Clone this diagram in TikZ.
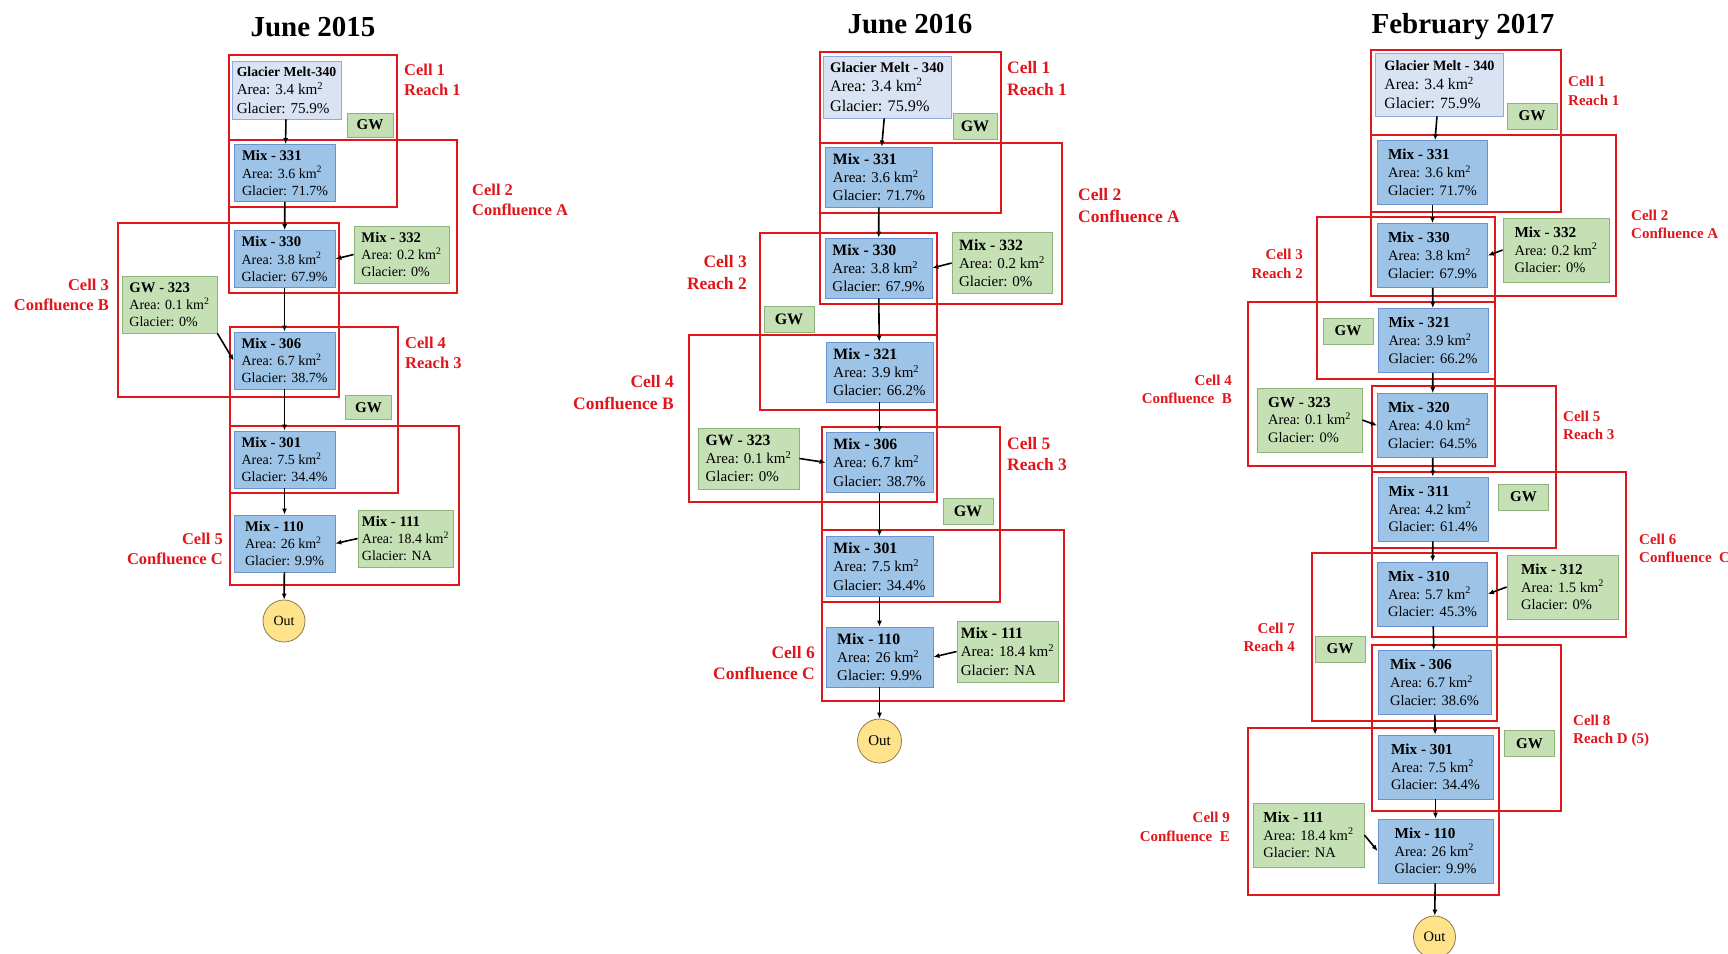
\documentclass[tikz,border=0pt]{standalone}
\usepackage{fontspec}
\setmainfont{Liberation Serif}
\usetikzlibrary{arrows.meta}

\definecolor{meltfill}{HTML}{DAE3F3}
\definecolor{meltline}{HTML}{8FAADC}
\definecolor{mixfill}{HTML}{9DC3E6}
\definecolor{mixline}{HTML}{6A92CE}
\definecolor{gwfill}{HTML}{C5E0B4}
\definecolor{gwline}{HTML}{8DB27A}
\definecolor{cellred}{HTML}{E0161B}
\definecolor{outfill}{HTML}{FFE38A}
\definecolor{outline}{HTML}{8C7B4E}

\newcommand{\fs}[1]{\fontsize{#1}{\fpeval{1.22*#1}}\selectfont}
\newcommand{\hd}[2][1.05]{{\bfseries\fontsize{\fpeval{#1*\bsz}}{\fpeval{1.22*\bsz}}\selectfont #2}}

\tikzset{
  bsz/.store in=\bsz, gsz/.store in=\gsz, lsz/.store in=\lsz,
  bsz=14, gsz=15, lsz=16,
  box/.style={align=left, inner sep=3pt, line width=0.8pt, font=\fs{\bsz}},
  melt/.style={box, draw=meltline, fill=meltfill, font=\fs{\fpeval{1.08*\bsz}}},
  mix/.style={box, draw=mixline, fill=mixfill},
  trib/.style={box, draw=gwline, fill=gwfill},
  gw/.style={draw=gwline, fill=gwfill, line width=0.8pt, inner sep=0pt, font=\fs{\gsz}\bfseries},
  cellbox/.style={draw=cellred, line width=2.2pt},
  cellR/.style={text=cellred, font=\fs{\lsz}\bfseries, align=left, anchor=west, inner sep=0pt},
  cellL/.style={text=cellred, font=\fs{\lsz}\bfseries, align=right, anchor=east, inner sep=0pt},
  outnode/.style={circle, draw=outline, fill=outfill, line width=0.8pt, inner sep=0pt, font=\fs{\bsz}},
  title/.style={font=\fontsize{29}{34}\selectfont\bfseries, anchor=base},
  flow/.style={->, line width=1.6pt}
}

\begin{document}
\begin{tikzpicture}[x=1pt, y=-1pt, >={Latex[length=6pt,width=5pt]}]
\useasboundingbox (0,0) rectangle (1728,953);

\node[title] (ta) at (313,36) {June 2015};
\node[title] (tb) at (910,33) {June 2016};
\node[title] (tc) at (1463,33) {February 2017};

% June 2015
\begin{scope}[bsz=14, gsz=15, lsz=16.5,
  mix/.append style={minimum width=101, minimum height=57},
  trib/.append style={minimum width=95, minimum height=57},
  melt/.append style={minimum width=109, minimum height=58},
  gw/.append style={minimum width=46, minimum height=24},
  outnode/.append style={minimum size=42}]
\draw[cellbox] (229,55) rectangle (397,207);
\draw[cellbox] (229,140) rectangle (457,293);
\draw[cellbox] (118,223) rectangle (339,397);
\draw[cellbox] (230,327) rectangle (398,493);
\draw[cellbox] (230,426) rectangle (459,585);
\node[melt] (a340) at (286.5,90) {\hd[0.98]{Glacier Melt-340}\\Area: 3.4 km\textsuperscript{2}\\Glacier: 75.9\%};
\node[gw] (agw1) at (370,125) {GW};
\node[mix] (a331) at (285,173) {\hd{Mix - 331}\\Area: 3.6 km\textsuperscript{2}\\Glacier: 71.7\%};
\node[mix] (a330) at (284.5,259) {\hd{Mix - 330}\\Area: 3.8 km\textsuperscript{2}\\Glacier: 67.9\%};
\node[trib] (a332) at (401.5,254.5) {\hd{Mix - 332}\\Area: 0.2 km\textsuperscript{2}\\Glacier: 0\%};
\node[trib] (a323) at (169.5,304.5) {\hd{GW - 323}\\Area: 0.1 km\textsuperscript{2}\\Glacier: 0\%};
\node[mix] (a306) at (284.5,360.5) {\hd{Mix - 306}\\Area: 6.7 km\textsuperscript{2}\\Glacier: 38.7\%};
\node[gw] (agw2) at (368.5,407.5) {GW};
\node[mix] (a301) at (284.5,459.5) {\hd{Mix - 301}\\Area: 7.5 km\textsuperscript{2}\\Glacier: 34.4\%};
\node[mix] (a110) at (284.5,543.5) {\hd{Mix - 110}\\Area: 26 km\textsuperscript{2}\\Glacier: 9.9\%};
\node[trib] (a111) at (405.5,538.5) {\hd{Mix - 111}\\Area: 18.4 km\textsuperscript{2}\\Glacier: NA};
\node[outnode] (aout) at (284,621) {Out};
\node[cellR] (la1) at (404,80) {Cell 1\\Reach 1};
\node[cellR] (la2) at (472,200) {Cell 2\\Confluence A};
\node[cellL] (la3) at (109,295) {Cell 3\\Confluence B};
\node[cellR] (la4) at (405,353) {Cell 4\\Reach 3};
\node[cellL] (la5) at (223,549) {Cell 5\\Confluence C};
\draw[flow] (a340) -- (a331);
\draw[flow] (a331) -- (a330);
\draw[flow] (a330) -- (a306);
\draw[flow] (a306) -- (a301);
\draw[flow] (a301) -- (a110);
\draw[flow] (a110) -- (aout);
\draw[flow] (a332.west) -- (a330.east);
\draw[flow] (a323.south east) -- (a306.west);
\draw[flow] (a111.west) -- (a110.east);
\end{scope}

% June 2016
\begin{scope}[bsz=15, gsz=16, lsz=17.5,
  mix/.append style={minimum width=107, minimum height=60},
  trib/.append style={minimum width=101, minimum height=61},
  melt/.append style={minimum width=128, minimum height=62},
  gw/.append style={minimum width=50, minimum height=26},
  outnode/.append style={minimum size=44}]
\draw[cellbox] (820,52) rectangle (1001,213);
\draw[cellbox] (820,143) rectangle (1062,304);
\draw[cellbox] (760,233) rectangle (937,410);
\draw[cellbox] (689,335) rectangle (937,502);
\draw[cellbox] (822,427) rectangle (1000,602);
\draw[cellbox] (822,530) rectangle (1064,701);
\node[melt] (b340) at (887,87) {\hd[0.98]{Glacier Melt - 340}\\Area: 3.4 km\textsuperscript{2}\\Glacier: 75.9\%};
\node[gw, minimum width=44] (bgw1) at (975,126) {GW};
\node[mix] (b331) at (879,177) {\hd{Mix - 331}\\Area: 3.6 km\textsuperscript{2}\\Glacier: 71.7\%};
\node[mix] (b330) at (878.5,268) {\hd{Mix - 330}\\Area: 3.8 km\textsuperscript{2}\\Glacier: 67.9\%};
\node[trib, minimum width=100] (b332) at (1002,263) {\hd{Mix - 332}\\Area: 0.2 km\textsuperscript{2}\\Glacier: 0\%};
\node[gw] (bgw2) at (789,319) {GW};
\node[mix] (b321) at (879.5,372) {\hd{Mix - 321}\\Area: 3.9 km\textsuperscript{2}\\Glacier: 66.2\%};
\node[trib] (b323) at (748.5,458.5) {\hd{GW - 323}\\Area: 0.1 km\textsuperscript{2}\\Glacier: 0\%};
\node[mix] (b306) at (879.5,462.5) {\hd{Mix - 306}\\Area: 6.7 km\textsuperscript{2}\\Glacier: 38.7\%};
\node[gw] (bgw3) at (968,511.5) {GW};
\node[mix] (b301) at (879.5,566.5) {\hd{Mix - 301}\\Area: 7.5 km\textsuperscript{2}\\Glacier: 34.4\%};
\node[mix] (b110) at (879.5,657) {\hd{Mix - 110}\\Area: 26 km\textsuperscript{2}\\Glacier: 9.9\%};
\node[trib] (b111) at (1007.5,651.5) {\hd{Mix - 111}\\Area: 18.4 km\textsuperscript{2}\\Glacier: NA};
\node[outnode] (bout) at (879.5,741) {Out};
\node[cellR] (lb1) at (1007,78.5) {Cell 1\\Reach 1};
\node[cellR] (lb2) at (1078,205.5) {Cell 2\\Confluence A};
\node[cellL] (lb3) at (747,272.5) {Cell 3\\Reach 2};
\node[cellL] (lb4) at (674,392.5) {Cell 4\\Confluence B};
\node[cellR] (lb5) at (1007,454) {Cell 5\\Reach 3};
\node[cellL] (lb6) at (815,663) {Cell 6\\Confluence C};
\draw[flow] (b340) -- (b331);
\draw[flow] (b331) -- (b330);
\draw[flow] (b330) -- (b321);
\draw[flow] (b321) -- (b306);
\draw[flow] (b306) -- (b301);
\draw[flow] (b301) -- (b110);
\draw[flow] (b110) -- (bout);
\draw[flow] (b332.west) -- (b330.east);
\draw[flow] (b323.east) -- (b306.west);
\draw[flow] (b111.west) -- (b110.east);
\end{scope}

% February 2017
\begin{scope}[bsz=14.5, gsz=15, lsz=15,
  mix/.append style={minimum width=110, minimum height=64},
  trib/.append style={minimum width=106, minimum height=64},
  melt/.append style={minimum width=128, minimum height=63},
  gw/.append style={minimum width=50, minimum height=26},
  outnode/.append style={minimum size=42}]
\draw[cellbox] (1371,50) rectangle (1561,212);
\draw[cellbox] (1371,135) rectangle (1616,296);
\draw[cellbox] (1317,217) rectangle (1495,379);
\draw[cellbox] (1248,302) rectangle (1495,466);
\draw[cellbox] (1372,386) rectangle (1556,548);
\draw[cellbox] (1372,472) rectangle (1626,637);
\draw[cellbox] (1312,553) rectangle (1497,721);
\draw[cellbox] (1372,645) rectangle (1561,811);
\draw[cellbox] (1248,728) rectangle (1499,895);
\node[melt] (c340) at (1439.5,84.5) {\hd[0.98]{Glacier Melt - 340}\\Area: 3.4 km\textsuperscript{2}\\Glacier: 75.9\%};
\node[gw] (cgw1) at (1532,116) {GW};
\node[mix] (c331) at (1432.5,172.5) {\hd{Mix - 331}\\Area: 3.6 km\textsuperscript{2}\\Glacier: 71.7\%};
\node[mix] (c330) at (1432.5,255.5) {\hd{Mix - 330}\\Area: 3.8 km\textsuperscript{2}\\Glacier: 67.9\%};
\node[trib] (c332) at (1556,250) {\hd{Mix - 332}\\Area: 0.2 km\textsuperscript{2}\\Glacier: 0\%};
\node[gw] (cgw2) at (1348,331) {GW};
\node[mix] (c321) at (1433,340.5) {\hd{Mix - 321}\\Area: 3.9 km\textsuperscript{2}\\Glacier: 66.2\%};
\node[trib, minimum width=105] (c323) at (1309.5,420) {\hd{GW - 323}\\Area: 0.1 km\textsuperscript{2}\\Glacier: 0\%};
\node[mix] (c320) at (1432.5,425.5) {\hd{Mix - 320}\\Area: 4.0 km\textsuperscript{2}\\Glacier: 64.5\%};
\node[mix] (c311) at (1433,509) {\hd{Mix - 311}\\Area: 4.2 km\textsuperscript{2}\\Glacier: 61.4\%};
\node[gw] (cgw3) at (1523.5,497) {GW};
\node[mix] (c310) at (1432.5,594) {\hd{Mix - 310}\\Area: 5.7 km\textsuperscript{2}\\Glacier: 45.3\%};
\node[trib, minimum width=111] (c312) at (1562.5,587) {\hd{Mix - 312}\\Area: 1.5 km\textsuperscript{2}\\Glacier: 0\%};
\node[gw] (cgw4) at (1340,649) {GW};
\node[mix, minimum width=113] (c306) at (1434.5,682.5) {\hd{Mix - 306}\\Area: 6.7 km\textsuperscript{2}\\Glacier: 38.6\%};
\node[gw] (cgw5) at (1529.5,743.5) {GW};
\node[mix, minimum width=115] (c301) at (1435.5,767) {\hd{Mix - 301}\\Area: 7.5 km\textsuperscript{2}\\Glacier: 34.4\%};
\node[trib, minimum width=111] (c111) at (1308.5,835) {\hd{Mix - 111}\\Area: 18.4 km\textsuperscript{2}\\Glacier: NA};
\node[mix, minimum width=115] (c110) at (1435.5,851) {\hd{Mix - 110}\\Area: 26 km\textsuperscript{2}\\Glacier: 9.9\%};
\node[outnode] (cout) at (1434.5,937) {Out};
\node[cellR] (lc1) at (1568,91) {Cell 1\\Reach 1};
\node[cellR] (lc2) at (1631,224.5) {Cell 2\\Confluence A};
\node[cellL] (lc3) at (1303,264) {Cell 3\\Reach 2};
\node[cellL] (lc4) at (1232,389.5) {Cell 4\\Confluence\ \ B};
\node[cellR] (lc5) at (1563,425.5) {Cell 5\\Reach 3};
\node[cellR] (lc6) at (1639,548.5) {Cell 6\\Confluence\ \ C};
\node[cellL] (lc7) at (1295,637.5) {Cell 7\\Reach 4};
\node[cellR] (lc8) at (1573,731) {Cell 8\\Reach D (5)};
\node[cellL] (lc9) at (1230,827) {Cell 9\\Confluence\ \ E};
\draw[flow] (c340) -- (c331);
\draw[flow] (c331) -- (c330);
\draw[flow] (c330) -- (c321);
\draw[flow] (c321) -- (c320);
\draw[flow] (c320) -- (c311);
\draw[flow] (c311) -- (c310);
\draw[flow] (c310) -- (c306);
\draw[flow] (c306) -- (c301);
\draw[flow] (c301) -- (c110);
\draw[flow] (c110) -- (cout);
\draw[flow] (c332.west) -- (c330.east);
\draw[flow] (c323.east) -- (c320.west);
\draw[flow] (c312.west) -- (c310.east);
\draw[flow] (c111.east) -- (c110.west);
\end{scope}
\end{tikzpicture}
\end{document}
